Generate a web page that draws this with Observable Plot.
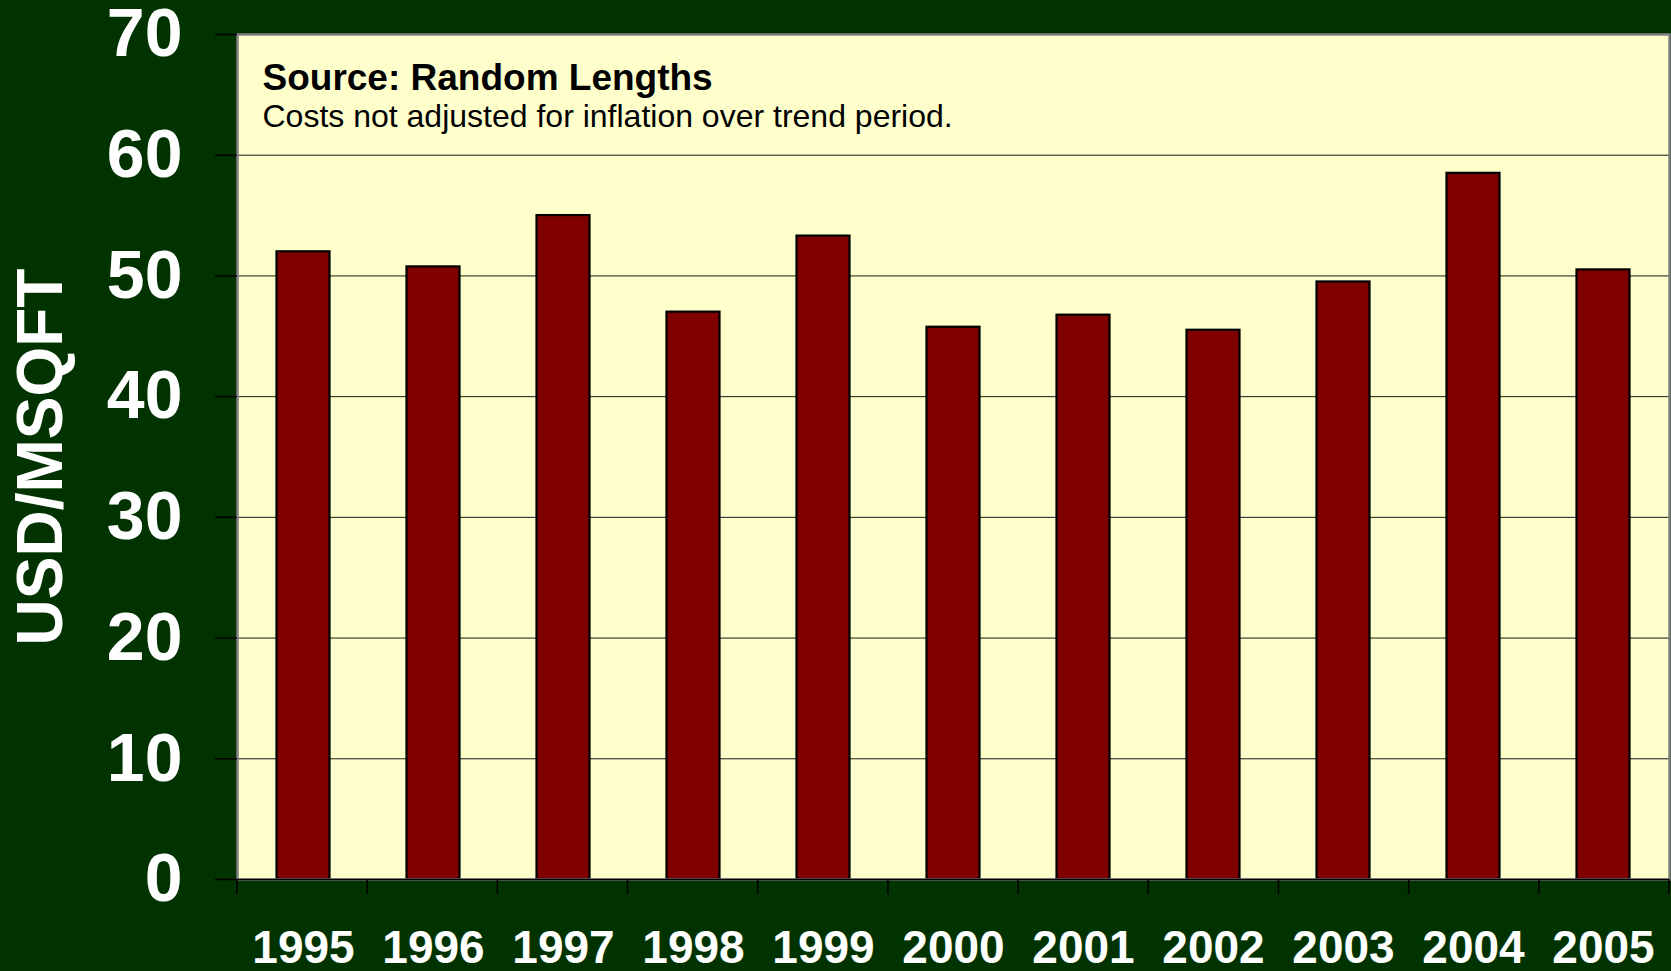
<!DOCTYPE html>
<html>
<head>
<meta charset="utf-8">
<script src="https://cdn.jsdelivr.net/npm/d3@7"></script>
<script src="https://cdn.jsdelivr.net/npm/@observablehq/plot@0.6"></script>
<style>
  html, body { margin: 0; padding: 0; background: #003300; overflow: hidden; }
  #chart svg { display: block; }
</style>
</head>
<body>
<div id="chart"></div>
<script>
// ---- data ----
const years = ["1995", "1996", "1997", "1998", "1999", "2000", "2001", "2002", "2003", "2004", "2005"];
const costs = [52.0, 50.75, 55.0, 47.0, 53.3, 45.75, 46.75, 45.5, 49.5, 58.5, 50.5];
const yTicks = [0, 10, 20, 30, 40, 50, 60, 70];
const gridTicks = [10, 20, 30, 40, 50, 60];
const yTitle = "USD/MSQFT";
const sourceTitle = "Source: Random Lengths";
const sourceNote = "Costs not adjusted for inflation over trend period.";

const data = years.map((year, i) => ({year, cost: costs[i]}));

const font = '"Liberation Sans", Arial, Helvetica, sans-serif';
const W = 1671, H = 971;

// category boundary ticks below the x axis
function boundaryTicks(index, scales, values, dims) {
  const g = d3.create("svg:g");
  const x0 = dims.marginLeft;
  const plotW = dims.width - dims.marginLeft - dims.marginRight;
  const step = plotW / years.length;
  const y0 = dims.height - dims.marginBottom;
  for (let i = 0; i <= years.length; i++) {
    g.append("line")
      .attr("x1", x0 + i * step).attr("x2", x0 + i * step)
      .attr("y1", y0).attr("y2", y0 + 15)
      .attr("stroke", "black").attr("stroke-width", 1.5);
  }
  return g.node();
}

const chart = Plot.plot({
  width: W,
  height: H,
  marginLeft: 237,
  marginRight: 2,
  marginTop: 34,
  marginBottom: 92,
  style: {background: "#003300", fontFamily: font, overflow: "visible"},
  x: {type: "band", domain: years, padding: 0, label: null},
  y: {domain: [0, 70], label: null},
  marks: [
    Plot.frame({fill: "#ffffcc", stroke: "none"}),
    Plot.gridY(gridTicks, {stroke: "#1a1a1a", strokeOpacity: 1, strokeWidth: 1}),
    Plot.barY(data, {x: "year", y: "cost", fill: "#800000", stroke: "black", strokeWidth: 2.2, insetLeft: 38.5, insetRight: 38.5}),
    Plot.frame({stroke: "#808080", strokeWidth: 2.5, fill: "none"}),
    Plot.ruleY([0], {stroke: "black", strokeWidth: 1.5}),
    Plot.axisY({ticks: yTicks, tickSize: 22, tickPadding: 33, fontSize: 68, fontWeight: "bold", fill: "white", stroke: "black", strokeWidth: 1.5, label: null}),
    Plot.axisX({tickSize: 0, tickPadding: 51, fontSize: 46, fontWeight: "bold", fill: "white", label: null}),
    boundaryTicks,
    Plot.text([yTitle], {text: d => d, frameAnchor: "left", textAnchor: "middle", dx: -196, rotate: -90, fontSize: 64, fontWeight: "bold", fill: "white"}),
    Plot.text([sourceTitle], {text: d => d, frameAnchor: "top-left", textAnchor: "start", lineAnchor: "top", dx: 25, dy: 29, fontSize: 37, fontWeight: "bold", fill: "black"}),
    Plot.text([sourceNote], {text: d => d, frameAnchor: "top-left", textAnchor: "start", lineAnchor: "top", dx: 25, dy: 70, fontSize: 32, fill: "black"})
  ]
});

document.getElementById("chart").append(chart);
</script>
</body>
</html>
